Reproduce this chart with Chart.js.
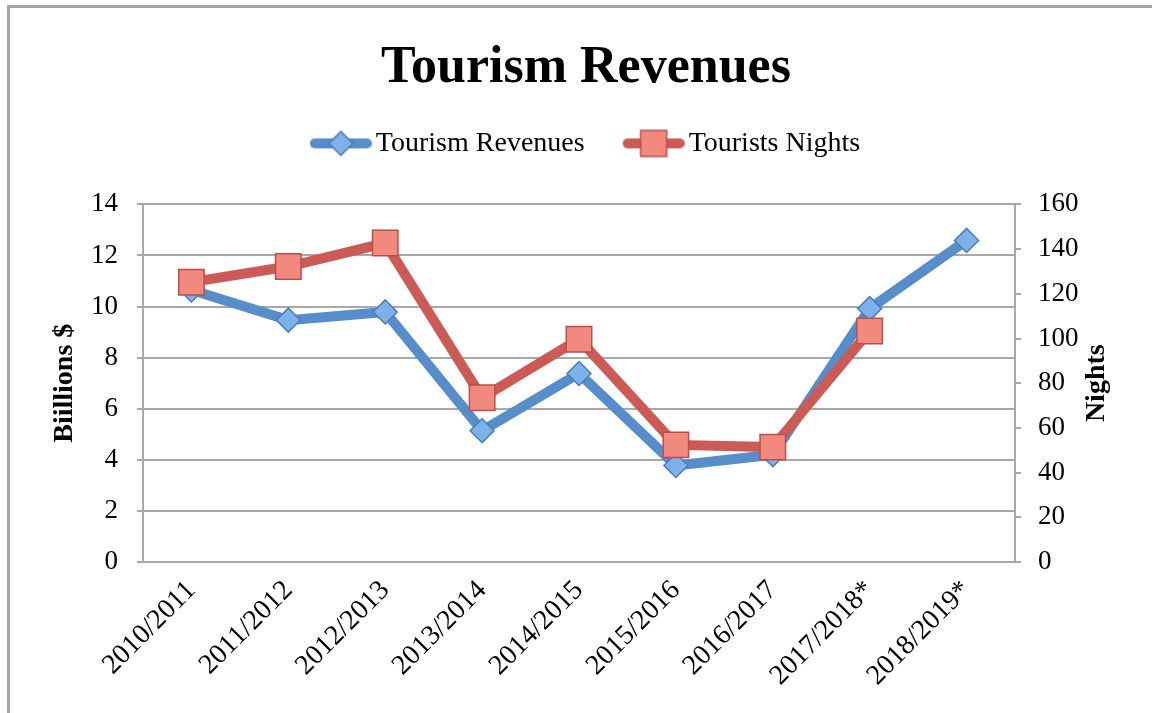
<!DOCTYPE html>
<html>
<head>
<meta charset="utf-8">
<script src="https://cdn.jsdelivr.net/npm/chart.js@4/dist/chart.umd.min.js"></script>
<style>
  html, body { margin: 0; padding: 0; background: #fff; overflow: hidden; }
  #frame { position: absolute; left: 7px; top: 5px; width: 2000px; height: 2000px;
           border-left: 3px solid #a6a6a6; border-top: 3px solid #a6a6a6; }
  #wrap { position: absolute; left: 0; top: 0; width: 1172px; height: 713px; }
</style>
</head>
<body>
<div id="frame"></div>
<div id="wrap"><canvas id="chart" width="1172" height="713"></canvas></div>
<script>
const years = ['2010/2011', '2011/2012', '2012/2013', '2013/2014', '2014/2015',
               '2015/2016', '2016/2017', '2017/2018*', '2018/2019*'];
const revenues = [10.65, 9.47, 9.79, 5.14, 7.38, 3.78, 4.2, 9.92, 12.59];
const nights = [125.2, 132.2, 142.7, 73.5, 99.7, 52.4, 51.4, 103.4, null];
const leftTicks = [0, 2, 4, 6, 8, 10, 12, 14];
const rightTicks = [0, 20, 40, 60, 80, 100, 120, 140, 160];

const FONT = "'Liberation Serif', 'Times New Roman', serif";
const blue = '#588dcb', blueFill = '#7db1ea', blueEdge = '#4a7dba';
const red = '#cc5b56', redFill = '#f2897f', redEdge = '#bf4c48';
const gridColor = '#a8a8a8';

// little legend icons: line with marker in the middle
function legendIcon(kind) {
  const c = document.createElement('canvas');
  c.width = 70; c.height = 30;
  const g = c.getContext('2d');
  g.strokeStyle = kind === 'diamond' ? blue : red;
  g.lineWidth = 10;
  g.lineCap = 'round';
  g.beginPath(); g.moveTo(13, 15); g.lineTo(65, 15); g.stroke();
  g.lineWidth = 1.5;
  if (kind === 'diamond') {
    g.fillStyle = blueFill; g.strokeStyle = blueEdge;
    g.beginPath(); g.moveTo(39, 3); g.lineTo(51, 15); g.lineTo(39, 27); g.lineTo(27, 15); g.closePath();
  } else {
    g.fillStyle = redFill; g.strokeStyle = redEdge;
    g.beginPath(); g.rect(26, 2, 26, 26);
  }
  g.fill(); g.stroke();
  return c;
}
const icons = [legendIcon('diamond'), legendIcon('square')];

// right axis title reads bottom-to-top, drawn by hand
const nightsTitle = {
  id: 'nightsTitle',
  afterDraw(chart) {
    const s = chart.scales.y1;
    const c = chart.ctx;
    c.save();
    c.font = "bold 28px " + FONT;
    c.fillStyle = '#000';
    c.textAlign = 'center';
    c.textBaseline = 'middle';
    c.translate(1097, (s.top + s.bottom) / 2);
    c.rotate(-Math.PI / 2);
    c.fillText('Nights', 0, 0);
    c.restore();
  }
};

const chart = new Chart(document.getElementById('chart'), {
  type: 'line',
  data: {
    labels: years,
    datasets: [{
      label: 'Tourism Revenues',
      data: revenues,
      yAxisID: 'y',
      order: 1,
      borderColor: blue,
      borderWidth: 10,
      backgroundColor: blueFill,
      pointStyle: 'rectRot',
      pointRadius: 12,
      pointBackgroundColor: blueFill,
      pointBorderColor: blueEdge,
      pointBorderWidth: 1.5,
      tension: 0
    }, {
      label: 'Tourists Nights',
      data: nights,
      yAxisID: 'y1',
      order: 0,
      borderColor: red,
      borderWidth: 10,
      backgroundColor: redFill,
      pointStyle: 'rect',
      pointRadius: 18,
      pointBackgroundColor: redFill,
      pointBorderColor: redEdge,
      pointBorderWidth: 1.5,
      tension: 0
    }]
  },
  options: {
    responsive: false,
    animation: false,
    layout: { padding: { left: 0, right: 0, top: 0, bottom: 0 } },
    scales: {
      x: {
        offset: true,
        grid: { display: false },
        border: { display: true, color: gridColor, width: 2 },
        ticks: {
          color: '#000', font: { family: FONT, size: 28 },
          minRotation: 45, maxRotation: 45, autoSkip: false, padding: 4
        },
        afterFit(scale) { scale.height = 151; }
      },
      y: {
        position: 'left',
        min: 0, max: 14,
        afterBuildTicks(scale) { scale.ticks = leftTicks.map(v => ({ value: v })); },
        grid: { color: gridColor, lineWidth: 2, tickLength: 6 },
        border: { display: true, color: gridColor, width: 2 },
        ticks: { color: '#000', font: { family: FONT, size: 27 }, padding: 19 },
        title: {
          display: true, text: 'Biillions $', color: '#000',
          font: { family: FONT, size: 28, weight: 'bold' },
          padding: { top: 48, bottom: 0 }
        },
        afterFit(scale) { scale.width = 143; }
      },
      y1: {
        position: 'right',
        min: 0, max: 160,
        afterBuildTicks(scale) { scale.ticks = rightTicks.map(v => ({ value: v })); },
        grid: { drawOnChartArea: false, color: gridColor, lineWidth: 2, tickLength: 6 },
        border: { display: true, color: gridColor, width: 2 },
        ticks: { color: '#000', font: { family: FONT, size: 27 }, padding: 17 },
        afterFit(scale) { scale.width = 157; }
      }
    },
    plugins: {
      title: {
        display: true,
        text: 'Tourism Revenues',
        color: '#000',
        font: { family: FONT, size: 52, weight: 'bold' },
        padding: { top: 37, bottom: -10 }
      },
      legend: {
        position: 'top',
        labels: {
          color: '#000',
          font: { family: FONT, size: 28 },
          usePointStyle: true,
          pointStyleWidth: 50,
          padding: 40,
          sort: (a, b) => a.datasetIndex - b.datasetIndex,
          generateLabels(chart) {
            return chart.data.datasets.map((ds, i) => ({
              text: ds.label,
              datasetIndex: i,
              pointStyle: icons[i],
              fontColor: '#000',
              lineWidth: 0,
              hidden: false
            }));
          }
        }
      },
      tooltip: { enabled: false }
    }
  },
  plugins: [nightsTitle]
});

// leave extra room between legend and plot area
const legendFit = chart.legend.fit;
chart.legend.fit = function () {
  legendFit.call(this);
  this.height += 37;
};
chart.update();
</script>
</body>
</html>
